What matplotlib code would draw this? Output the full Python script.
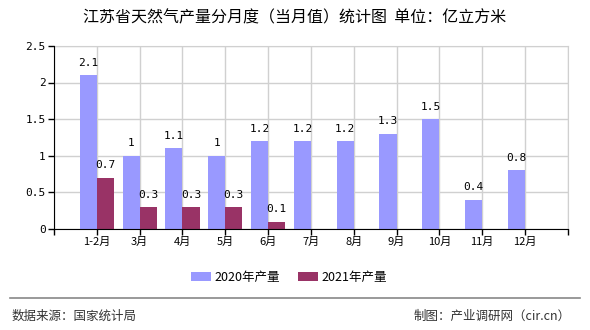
import numpy as np
import matplotlib
matplotlib.use("Agg")
import matplotlib.pyplot as plt
from matplotlib.lines import Line2D

plt.rcParams['font.family'] = ['Noto Sans CJK SC', 'DejaVu Sans']

# data
months = ["1-2月", "3月", "4月", "5月", "6月", "7月", "8月", "9月", "10月", "11月", "12月"]
output_2020 = [2.1, 1, 1.1, 1, 1.2, 1.2, 1.2, 1.3, 1.5, 0.4, 0.8]
output_2021 = [0.7, 0.3, 0.3, 0.3, 0.1, None, None, None, None, None, None]
yticks = [0, 0.5, 1, 1.5, 2, 2.5]

c2020 = "#9999ff"
c2021 = "#993366"
mono = ["DejaVu Sans Mono"]

fig = plt.figure(figsize=(5.9, 3.3), dpi=100)
ax = fig.add_axes([0.0915, 0.306, 0.871, 0.555])

x = np.arange(1, len(months) + 1)
w = 0.4
ax.bar(x - w / 2, output_2020, width=w, color=c2020, zorder=3, label="2020年产量")
y21 = [np.nan if v is None else v for v in output_2021]
ax.bar(x + w / 2, y21, width=w, color=c2021, zorder=3, label="2021年产量")

# value labels
for xi, v in zip(x, output_2020):
    ax.text(xi - w / 2, v + 0.1, "%g" % v, ha="center", va="bottom",
            fontsize=8, family=mono)
for xi, v in zip(x, output_2021):
    if v is None:
        continue
    ax.text(xi + w / 2, v + 0.1, "%g" % v, ha="center", va="bottom",
            fontsize=8, family=mono)

ax.set_xlim(0, 12)
ax.set_ylim(0, 2.5)
ax.set_xticks(np.arange(0, 13))
ax.set_xticklabels([""] + months + [""], fontsize=8)
ax.set_yticks(yticks)
ax.set_yticklabels(["%g" % t for t in yticks], fontsize=8, family=mono)
ax.tick_params(axis="both", length=4, width=1, color="black", pad=2)

ax.grid(True, color="#d0d0d0", linewidth=1, zorder=0)
for s in ["top", "right"]:
    ax.spines[s].set_color("#d0d0d0")
for s in ["left", "bottom"]:
    ax.spines[s].set_color("black")
    ax.spines[s].set_zorder(4)

fig.text(0.5, 0.945, "江苏省天然气产量分月度（当月值）统计图  单位：亿立方米",
         ha="center", va="center", fontsize=11.5)

fig.legend(loc="center", bbox_to_anchor=(0.49, 0.16), ncol=2, frameon=False,
           fontsize=9, handlelength=1.6, handleheight=0.8, columnspacing=1.4,
           handletextpad=0.3)

fig.add_artist(Line2D([0.017, 0.983], [1 - 298 / 330, 1 - 298 / 330],
                      color="#888888", linewidth=1.2))
fig.text(0.02, 1 - 316 / 330, "数据来源：国家统计局", ha="left", va="center",
         fontsize=9, color="#333333")
fig.text(0.967, 1 - 316 / 330, "制图：产业调研网（cir.cn）", ha="right", va="center",
         fontsize=9, color="#333333")

fig.savefig("out.png", dpi=100)
